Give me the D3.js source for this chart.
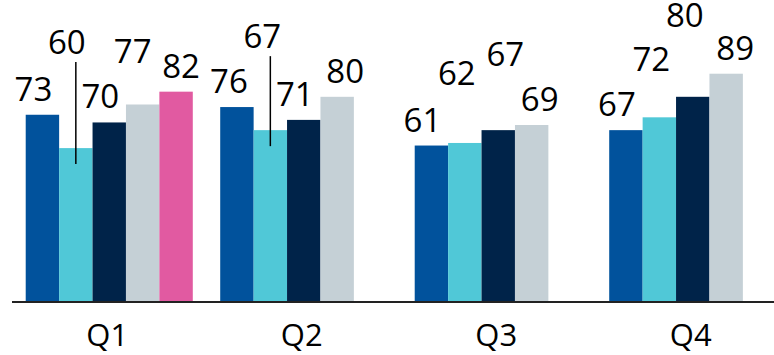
<!DOCTYPE html>
<meta charset="utf-8">
<head>
  <title>Quarterly bars</title>
  <script src="https://cdn.jsdelivr.net/npm/d3@7"></script>
  <style>
    body { margin: 0; background: #fff; }
    text { font-family: "Open Sans", "Noto Sans", sans-serif; fill: #000; }
  </style>
</head>
<body>
<div id="chart"></div>
<script>
// data
var quarters = ["Q1", "Q2", "Q3", "Q4"];
var series1 = [73, 76, 61, 67];
var series2 = [60, 67, 62, 72];
var series3 = [70, 71, 67, 80];
var series4 = [77, 80, 69, 89];
var series5 = [82, null, null, null];   // only Q1 has the fifth bar

var colors = ["#01529c", "#50c8d7", "#002349", "#c5d0d6", "#e15aa1"];

// label nudges (layout only): dx, extra lift, leader line flag
var labelDx   = [[-9, -9, -9, -10, 5], [-8, -8, -9, 8], [-9, -8, 7, 8], [-9, -8, -8, 9]];
var labelLift = [[0, 80, 0, 27, 0],    [0, 68, 0, 0],   [0, 44, 50, 0], [0, 32, 56, 0]];
var leader    = [[0, 1, 0, 0, 0],      [0, 1, 0, 0],    [0, 0, 0, 0],   [0, 0, 0, 0]];

var width = 774, height = 355;
var baseY = 302;

var svg = d3.select("#chart").append("svg")
    .attr("width", width)
    .attr("height", height);

var x0 = d3.scaleBand()
    .domain(quarters)
    .range([12, 790])
    .paddingInner(0.141)
    .paddingOuter(0.0705);

var x1 = d3.scaleBand()
    .domain([0, 1, 2, 3, 4])
    .range([0, x0.bandwidth()]);

var y = d3.scaleLinear()
    .domain([0, 100])
    .range([baseY, 45.5]);

var allSeries = [series1, series2, series3, series4, series5];

var rows = [];
quarters.forEach(function(q, qi) {
    allSeries.forEach(function(s, si) {
        if (s[qi] != null) rows.push({q: q, qi: qi, si: si, v: s[qi]});
    });
});

// bars
svg.append("g").selectAll("rect")
    .data(rows)
    .enter().append("rect")
    .attr("x", function(d) { return x0(d.q) + x1(d.si); })
    .attr("y", function(d) { return y(d.v); })
    .attr("width", x1.bandwidth())
    .attr("height", function(d) { return baseY - y(d.v); })
    .attr("fill", function(d) { return colors[d.si]; });

// value labels
var gap = 14;
svg.append("g").selectAll("text")
    .data(rows)
    .enter().append("text")
    .attr("x", function(d) { return x0(d.q) + x1(d.si) + x1.bandwidth() / 2 + labelDx[d.qi][d.si]; })
    .attr("y", function(d) { return y(d.v) - gap - labelLift[d.qi][d.si]; })
    .attr("text-anchor", "middle")
    .style("font-size", "33px")
    .text(function(d) { return d.v; });

// leader lines
svg.append("g").selectAll("line")
    .data(rows.filter(function(d) { return leader[d.qi][d.si]; }))
    .enter().append("line")
    .attr("x1", function(d) { return x0(d.q) + x1(d.si) + x1.bandwidth() / 2; })
    .attr("x2", function(d) { return x0(d.q) + x1(d.si) + x1.bandwidth() / 2; })
    .attr("y1", function(d) { return y(d.v) - gap - labelLift[d.qi][d.si] + 8; })
    .attr("y2", function(d) { return y(d.v) + 16; })
    .attr("stroke", "#000")
    .attr("stroke-width", 1.5);

// axis
svg.append("line")
    .attr("x1", 12).attr("x2", width)
    .attr("y1", baseY).attr("y2", baseY)
    .attr("stroke", "#222")
    .attr("stroke-width", 2);

svg.append("g").selectAll("text")
    .data(quarters)
    .enter().append("text")
    .attr("x", function(d) { return x0(d) + x0.bandwidth() / 2 - 2; })
    .attr("y", 346)
    .attr("text-anchor", "middle")
    .style("font-size", "31px")
    .text(function(d) { return d; });
</script>
</body>
</html>
